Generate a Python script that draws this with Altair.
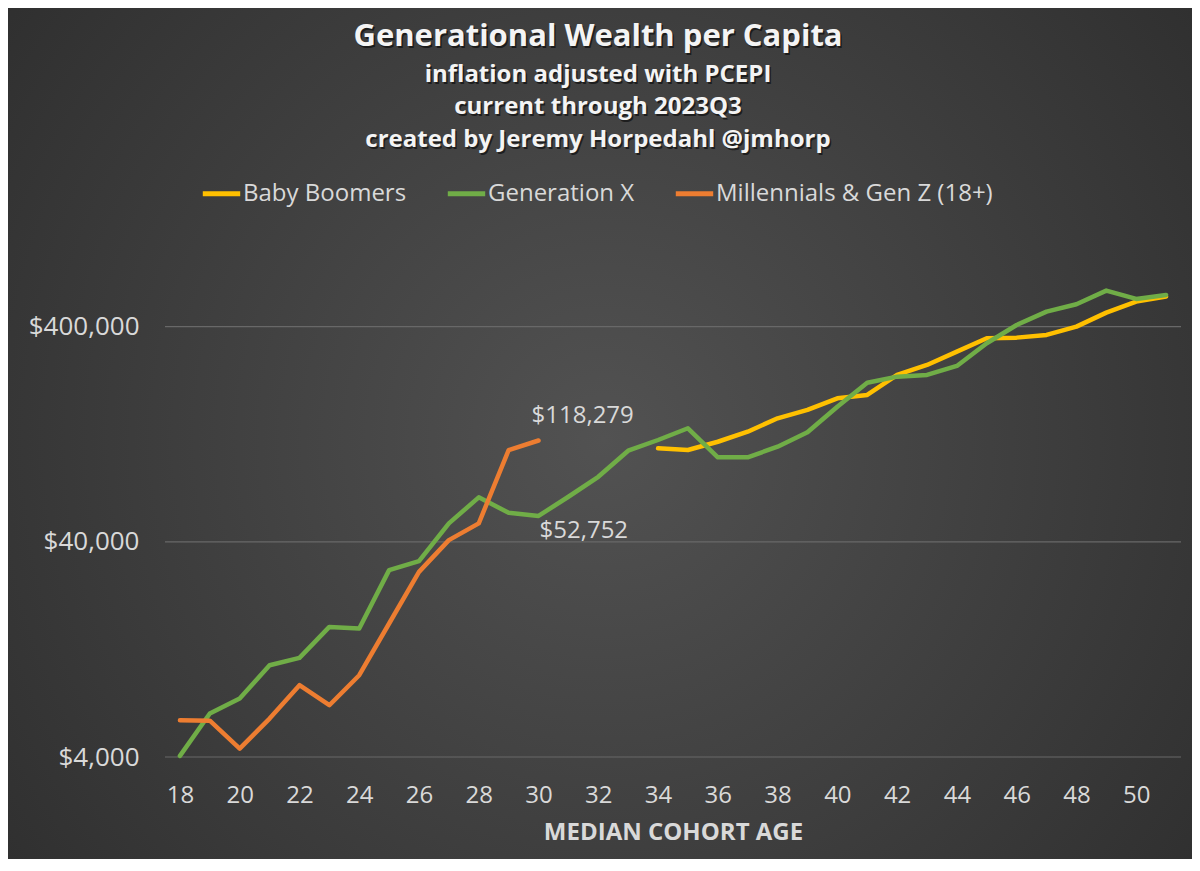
import altair as alt
import pandas as pd

# ---- data ----
boomer_ages = list(range(34, 52))
boomer_vals = [108800, 106800, 116700, 129900, 150000, 164000, 185800, 192500, 238500,
               265400, 306000, 353200, 355600, 366000, 400000, 464800, 522800, 552000]

genx_ages = list(range(18, 52))
genx_vals = [4050, 6370, 7480, 10680, 11550, 16090, 15830, 29550, 32520, 48730,
             64360, 54570, 52752, 64780, 80200, 106000, 118900, 134800, 98800, 98800,
             110700, 129100, 169800, 219600, 234200, 238500, 262600, 334800, 407200, 469700,
             508500, 588300, 538100, 561600]

mill_ages = list(range(18, 31))
mill_vals = [5925, 5900, 4377, 6033, 8625, 6960, 9596, 16690, 29010, 40730, 48730, 106800, 118279]

series_names = ["Baby Boomers", "Generation X", "Millennials & Gen Z (18+)"]
series_colors = ["#FFC000", "#70AD47", "#ED7D31"]

x_ticks = list(range(18, 51, 2))
y_ticks = [4000, 40000, 400000]

title_lines = ["Generational Wealth per Capita", "inflation adjusted with PCEPI",
               "current through 2023Q3", "created by Jeremy Horpedahl @jmhorp"]

rows = []
for name, ages, vals in [(series_names[0], boomer_ages, boomer_vals),
                         (series_names[1], genx_ages, genx_vals),
                         (series_names[2], mill_ages, mill_vals)]:
    for a, v in zip(ages, vals):
        rows.append({"age": a, "value": v, "series": name})
df = pd.DataFrame(rows)

ann_top = pd.DataFrame({"age": [mill_ages[-1]], "value": [mill_vals[-1]]})
ann_bot = pd.DataFrame({"age": [30], "value": [genx_vals[genx_ages.index(30)]]})
grid_df = pd.DataFrame({"value": y_ticks})

FONT = "Open Sans"
LABEL = "#d9d9d9"
TITLE_C = "#f4f4f4"

x_scale = alt.Scale(domain=[17.5, 51.5], nice=False, zero=False)
y_scale = alt.Scale(type="log", domain=[4000, 1000000], nice=False)

x = alt.X("age:Q", scale=x_scale,
          axis=alt.Axis(values=x_ticks, format="d", grid=False, domain=False, ticks=False,
                        labelFontSize=24, labelFont=FONT, labelColor=LABEL, labelPadding=26,
                        title="MEDIAN COHORT AGE", titleFont=FONT, titleFontSize=24,
                        titleFontWeight="bold", titleColor=LABEL, titlePadding=13, zindex=1))
y = alt.Y("value:Q", scale=y_scale,
          axis=alt.Axis(values=y_ticks, format="$,.0f", grid=False, domain=False, ticks=False,
                        labelFontSize=26, labelFont=FONT, labelColor=LABEL, labelPadding=26,
                        title=None, zindex=1))

bg = alt.Chart(pd.DataFrame({"a": [0]})).mark_rect(
    fill=alt.Gradient(gradient="radial", x1=0.5, y1=0.5, x2=0.5, y2=0.5, r1=0, r2=0.72,
                      stops=[alt.GradientStop(color="#525252", offset=0),
                             alt.GradientStop(color="#2a2a2a", offset=1)])
).encode(x=alt.value(-157), x2=alt.value(1035), y=alt.value(-233), y2=alt.value(630))

grid = alt.Chart(grid_df).mark_rule(color="#686868", strokeWidth=1.2).encode(
    y=y, x=alt.value(0), x2=alt.value(1016))

lines = alt.Chart(df).mark_line(strokeWidth=4.5, strokeCap="round", strokeJoin="round").encode(
    x=x, y=y,
    color=alt.Color("series:N",
                    scale=alt.Scale(domain=series_names, range=series_colors),
                    legend=alt.Legend(orient="none", legendX=35, legendY=-69, direction="horizontal",
                                      title=None, symbolType="stroke", symbolStrokeWidth=5,
                                      symbolSize=1400, labelFont=FONT, labelFontSize=24,
                                      labelColor=LABEL, labelOffset=0, columnPadding=30,
                                      labelLimit=400)),
    order=alt.Order("age:Q"),
)

t1 = alt.Chart(ann_top).mark_text(font=FONT, fontSize=24, color=LABEL, align="left",
                                  dx=-7, dy=-24).encode(
    x="age:Q", y="value:Q", text=alt.Text("value:Q", format="$,.0f"))
t2 = alt.Chart(ann_bot).mark_text(font=FONT, fontSize=24, color=LABEL, align="left",
                                  dx=1, dy=15).encode(
    x="age:Q", y="value:Q", text=alt.Text("value:Q", format="$,.0f"))

# title lines (with a soft drop shadow like the original)
title_layers = []
title_y = [-204, -166, -134, -101]
title_size = [31, 24, 24, 24]
for txt, ty, fs in zip(title_lines, title_y, title_size):
    d = pd.DataFrame({"t": [txt]})
    shadow = alt.Chart(d).mark_text(font=FONT, fontSize=fs, fontWeight="bold", color="#000000",
                                    opacity=0.55, baseline="middle", align="center",
                                    dx=1.5, dy=1.5).encode(
        text="t:N", x=alt.value(433), y=alt.value(ty))
    main = alt.Chart(d).mark_text(font=FONT, fontSize=fs, fontWeight="bold", color=TITLE_C,
                                  baseline="middle", align="center").encode(
        text="t:N", x=alt.value(433), y=alt.value(ty))
    title_layers += [shadow, main]

chart = alt.layer(bg, grid, lines, t1, t2, *title_layers).properties(
    width=1016, height=516,
    padding={"left": 157, "top": 233, "right": 11, "bottom": 102},
    autosize=alt.AutoSizeParams(type="none"),
).configure(background="#3a3a3a").configure_view(strokeWidth=0)

chart.save("out.html", embed_options={"renderer": "svg", "actions": False})
